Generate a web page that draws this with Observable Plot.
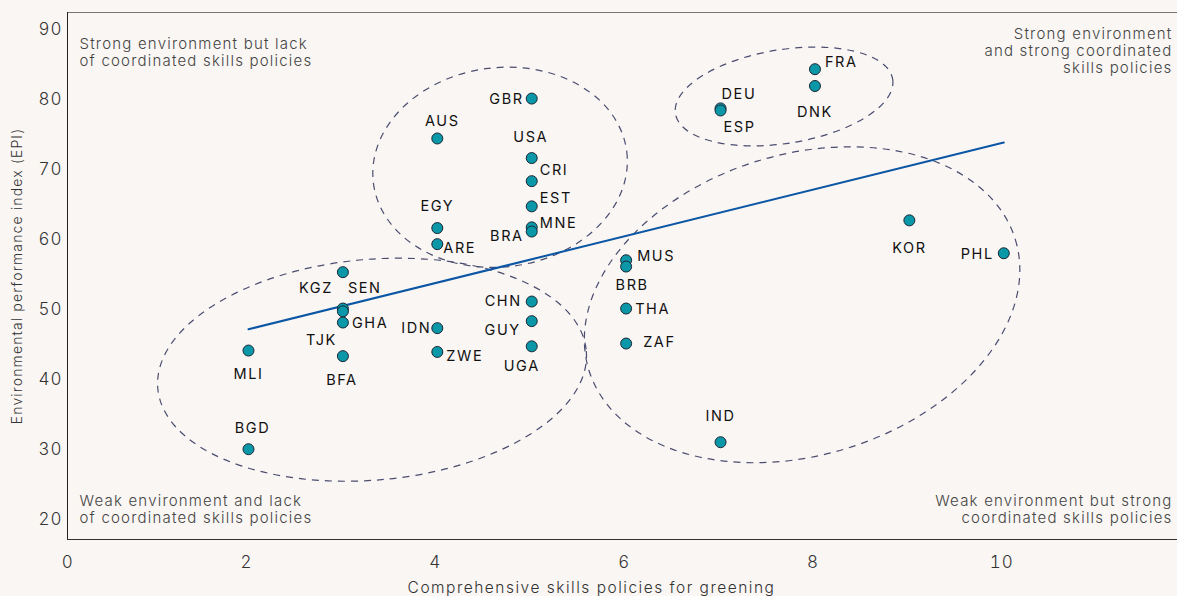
<!DOCTYPE html>
<html><head><meta charset="utf-8">
<script src="https://cdn.jsdelivr.net/npm/d3@7"></script>
<script src="https://cdn.jsdelivr.net/npm/@observablehq/plot@0.6"></script>
<style>
html,body{margin:0;padding:0;background:#f9f6f3;}
#chart svg{display:block;}
</style></head><body><div id="chart"></div>
<script>
// ---- data ----
const countries = ["GBR","AUS","USA","CRI","EST","MNE","BRA","EGY","ARE","KGZ","SEN","TJK","GHA","BFA","MLI","BGD","IDN","ZWE","CHN","GUY","UGA","MUS","BRB","THA","ZAF","IND","KOR","PHL","FRA","DNK","DEU","ESP"];
const skills = [5,4,5,5,5,5,5,4,4,3,3,3,3,3,2,2,4,4,5,5,5,6,6,6,6,7,9,10,8,8,7,7];
const epi = [80.1,74.4,71.6,68.3,64.7,61.7,61.1,61.6,59.3,55.3,50.1,49.7,48.1,43.3,44.1,30.0,47.3,43.9,51.1,48.3,44.7,57.0,56.1,50.1,45.1,31.0,62.7,58.0,84.3,81.9,78.7,78.4];

// cluster ellipses (data units)
const ellipseCx = [4.670, 7.678, 3.314, 7.869];
const ellipseCy = [70.21, 80.33, 41.29, 50.57];
const ellipseRx = [1.352, 1.165, 2.278, 2.362];
const ellipseRy = [14.24, 6.7, 15.77, 21.5];
const ellipseAngle = [-7, -9, -5, -17];

const xTicksOrigin = [0];
const xTicks = [2,4,6,8,10];
const yTicks = [20,30,40,50,60,70,80,90];
const quadrantNotes = [
  "Strong environment but lack\nof coordinated skills policies",
  "Strong environment\nand strong coordinated\nskills policies",
  "Weak environment and lack\nof coordinated skills policies",
  "Weak environment but strong\ncoordinated skills policies"
];
const xLabel = "Comprehensive skills policies for greening";
const yLabel = "Environmental performance index (EPI)";

// ---- layout for labels (pixel offsets, not data) ----
const place = {
  GBR:[-8,1,"end"], AUS:[5,-17,"middle"], USA:[-1,-21,"middle"], CRI:[8,-11,"start"],
  EST:[8,-8,"start"], MNE:[8,-4,"start"], BRA:[-8,5,"end"], EGY:[0,-22,"middle"],
  ARE:[6,4,"start"], KGZ:[-10,16,"end"], SEN:[5,-20,"start"], TJK:[-6,29,"end"],
  GHA:[9,1,"start"], BFA:[-1,24,"middle"], MLI:[0,24,"middle"], BGD:[4,-21,"middle"],
  IDN:[-6,0,"end"], ZWE:[9,4,"start"], CHN:[-10,0,"end"], GUY:[-11,9,"end"],
  UGA:[-10,20,"middle"], MUS:[11,-4,"start"], BRB:[6,19,"middle"], THA:[9,1,"start"],
  ZAF:[17,-1,"start"], IND:[0,-26,"middle"], KOR:[0,28,"middle"], PHL:[-10,1,"end"],
  FRA:[10,-7,"start"], DNK:[0,26,"middle"], DEU:[1,-14,"start"], ESP:[3,17,"start"]
};

const data = countries.map((c,i)=>({c, x: skills[i], y: epi[i]}));
const FONT = "Inter, 'Noto Sans', sans-serif";

function ellipses(index, scales) {
  const {x, y} = scales;
  const g = d3.create("svg:g");
  ellipseCx.forEach((cx,i)=>{
    const px = x(cx), py = y(ellipseCy[i]);
    const rx = Math.abs(x(cx + ellipseRx[i]) - px);
    const ry = Math.abs(y(ellipseCy[i] + ellipseRy[i]) - py);
    g.append("ellipse").attr("cx",px).attr("cy",py).attr("rx",rx).attr("ry",ry)
      .attr("transform",`rotate(${ellipseAngle[i]} ${px} ${py})`)
      .attr("fill","none").attr("stroke","#4a4d70").attr("stroke-width",1.2)
      .attr("stroke-dasharray","7,6");
  });
  return g.node();
}

const labelMarks = data.map(d=>{
  const [dx,dy,anchor] = place[d.c];
  return Plot.text([d], {x:"x", y:"y", text:"c", dx, dy, textAnchor:anchor, fontSize:14.5, fill:"#111"});
});

const noteOpts = {fontSize:15, fill:"#444", fontWeight:300, lineHeight:1.15, lineAnchor:"top"};
const tickOpts = {tickSize:0, tickPadding:16, fontSize:17, fill:"#333", fontWeight:300, label:null};

const chart = Plot.plot({
  width: 1177, height: 596,
  marginLeft: 67, marginTop: 12, marginBottom: 57, marginRight: 0,
  style: {background:"#f9f6f3", fontFamily: FONT, overflow:"visible"},
  x: {domain:[0.083, 11.84]},
  y: {domain:[17.1, 92.4]},
  marks: [
    Plot.frame({anchor:"top", stroke:"#777"}),
    Plot.frame({anchor:"left", stroke:"#222"}),
    Plot.frame({anchor:"bottom", stroke:"#333"}),
    Plot.axisX({...tickOpts, ticks:xTicksOrigin, dx:8}),
    Plot.axisX({...tickOpts, ticks:xTicks, dx:-2}),
    Plot.axisY({ticks:yTicks, tickSize:0, tickPadding:5, fontSize:17, fill:"#333", fontWeight:300, label:null}),
    Plot.text([xLabel], {frameAnchor:"bottom", dx:-31, dy:53, fontSize:15.5, fill:"#333", fontWeight:300}),
    Plot.text([yLabel], {frameAnchor:"left", textAnchor:"middle", rotate:-90, dx:-50, fontSize:14, fill:"#333", fontWeight:300}),
    Plot.text([quadrantNotes[0]], {...noteOpts, frameAnchor:"top-left", textAnchor:"start", dx:12, dy:24}),
    Plot.text([quadrantNotes[1]], {...noteOpts, frameAnchor:"top-right", textAnchor:"end", dx:-5, dy:14}),
    Plot.text([quadrantNotes[2]], {...noteOpts, frameAnchor:"bottom-left", textAnchor:"start", dx:12, dy:-46}),
    Plot.text([quadrantNotes[3]], {...noteOpts, frameAnchor:"bottom-right", textAnchor:"end", dx:-5, dy:-46}),
    ellipses,
    Plot.linearRegressionY(data, {x:"x", y:"y", stroke:"#0b56a4", strokeWidth:2, ci:0}),
    Plot.dot(data, {x:"x", y:"y", r:5.5, fill:"#0a97a8", stroke:"#1b2633", strokeWidth:1}),
    ...labelMarks
  ]
});
// widen the glyph spacing to approximate the reference's wide geometric face
const spacing = {"14.5":"1.6px", "15":"1.2px", "15.5":"1.5px", "14":"1.15px", "17":"1px"};
d3.select(chart).selectAll("g[font-size]").each(function(){
  const s = spacing[this.getAttribute("font-size")];
  if (s) this.style.letterSpacing = s;
});
document.getElementById("chart").append(chart);
</script>
</body></html>
